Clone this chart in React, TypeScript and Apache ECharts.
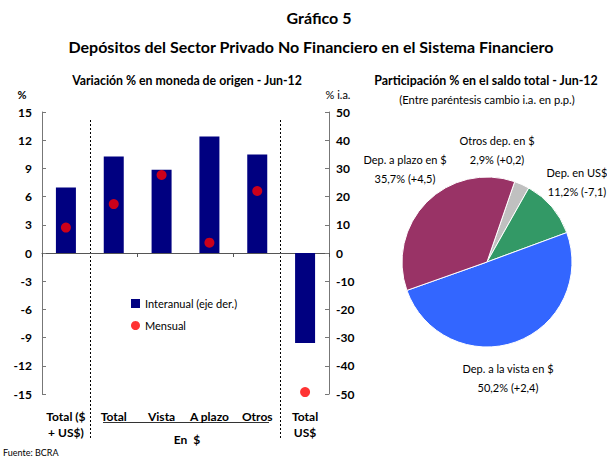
import React, { useEffect, useRef } from "react";
import * as echarts from "echarts";

const categories = ["Total ($\n+ US$)", "Total", "Vista", "A plazo", "Otros", "Total\nUS$"];
const interanual = [23.2, 34.2, 29.5, 41.3, 34.9, -31.9];
const mensual = [2.7, 5.2, 8.3, 1.1, 6.6, -14.8];
const leftTicks = { min: -15, max: 15, interval: 3 };
const rightTicks = { min: -50, max: 50, interval: 10 };

const pieNames = ["Otros dep. en $", "Dep. en US$", "Dep. a la vista en $", "Dep. a plazo en $"];
const pieShares = [2.9, 11.2, 50.2, 35.7];
const pieChanges = [0.2, -7.1, 2.4, 4.5];
const pieColors = ["#C0C0C0", "#339966", "#3366FF", "#993366"];
const pieLabelPos = [
  [497, 150],
  [577, 182],
  [508, 378],
  [405, 169],
];

const FONT = "Lato, 'Open Sans', sans-serif";
const fmt = (v: number) => v.toFixed(1).replace(".", ",");
const fmtSigned = (v: number) => (v >= 0 ? "+" : "-") + fmt(Math.abs(v));

export default function App() {
  const ref = useRef<HTMLDivElement>(null);
  useEffect(() => {
    const chart = echarts.init(ref.current!, null, { renderer: "svg" });
    const boldLabel = { fontFamily: FONT, fontWeight: "bold" as const, fontSize: 12, color: "#000" };
    chart.setOption({
      animation: false,
      backgroundColor: "#fff",
      textStyle: { fontFamily: FONT },
      grid: { left: 42, right: 278, top: 112, bottom: 62 },
      legend: {
        orient: "vertical",
        left: 126,
        top: 293,
        itemWidth: 9,
        itemHeight: 9,
        itemGap: 11,
        textStyle: { fontFamily: FONT, fontSize: 11, color: "#000" },
        data: [
          { name: "Interanual (eje der.)", icon: "rect" },
          { name: "Mensual", icon: "circle" },
        ],
      },
      xAxis: [
        {
          type: "category",
          data: categories,
          position: "bottom",
          axisLine: { onZero: true, lineStyle: { color: "#555", width: 1 } },
          axisTick: { show: true, inside: false, length: 4, lineStyle: { color: "#555" } },
          axisLabel: { show: false },
        },
        {
          type: "category",
          data: categories,
          position: "bottom",
          axisLine: { show: false, onZero: false },
          axisTick: { show: false },
          axisLabel: { ...boldLabel, margin: 14, lineHeight: 16, interval: 0 },
        },
      ],
      yAxis: [
        {
          type: "value",
          ...leftTicks,
          position: "left",
          axisLine: { show: true, lineStyle: { color: "#777" } },
          axisTick: { show: true, inside: true, length: 4, lineStyle: { color: "#777" } },
          axisLabel: { ...boldLabel, margin: 10 },
          splitLine: { show: false },
        },
        {
          type: "value",
          ...rightTicks,
          position: "right",
          axisLine: { show: true, lineStyle: { color: "#777" } },
          axisTick: { show: true, inside: true, length: 4, lineStyle: { color: "#777" } },
          axisLabel: { ...boldLabel, margin: 7 },
          splitLine: { show: false },
        },
      ],
      series: [
        {
          name: "Interanual (eje der.)",
          type: "bar",
          xAxisIndex: 0,
          yAxisIndex: 1,
          data: interanual,
          barWidth: 20,
          itemStyle: { color: "#000080" },
        },
        {
          name: "Mensual",
          type: "scatter",
          xAxisIndex: 0,
          yAxisIndex: 0,
          data: mensual,
          symbolSize: 10,
          itemStyle: { color: "#FF0000" },
          z: 5,
        },
        {
          name: "Participación",
          type: "pie",
          center: [487, 262],
          radius: 85,
          startAngle: 71,
          clockwise: true,
          avoidLabelOverlap: false,
          itemStyle: { borderColor: "#fff", borderWidth: 1 },
          data: pieNames.map((n, i) => ({
            name: n,
            value: pieShares[i],
            itemStyle: { color: pieColors[i] },
          })),
          label: {
            show: true,
            position: "outside",
            alignTo: "none",
            overflow: "none",
            fontFamily: FONT,
            fontSize: 11,
            color: "#000",
            lineHeight: 19,
            formatter: (p: any) =>
              `${p.name}\n${fmt(pieShares[p.dataIndex])}% (${fmtSigned(pieChanges[p.dataIndex])})`,
          },
          labelLine: { show: false },
          labelLayout: (p: any) => ({
            x: pieLabelPos[p.dataIndex][0],
            y: pieLabelPos[p.dataIndex][1],
            align: "center",
            verticalAlign: "middle",
            hideOverlap: false,
            moveOverlap: null,
          }),
        },
      ],
      graphic: [
        { type: "text", x: 319, y: 17, style: { text: "Gráfico 5", font: `bold 16px ${FONT}`, fill: "#000", textAlign: "center", textVerticalAlign: "middle" } },
        { type: "text", x: 311, y: 46, style: { text: "Depósitos del Sector Privado No Financiero en el Sistema Financiero", font: `bold 16px ${FONT}`, fill: "#000", textAlign: "center", textVerticalAlign: "middle" } },
        { type: "text", x: 187, y: 80, style: { text: "Variación % en moneda de origen - Jun-12", font: `bold 12.3px ${FONT}`, fill: "#000", textAlign: "center", textVerticalAlign: "middle" } },
        { type: "text", x: 22, y: 94, style: { text: "%", font: `bold 11px ${FONT}`, fill: "#000", textAlign: "center", textVerticalAlign: "middle" } },
        { type: "text", x: 338, y: 94, style: { text: "% i.a.", font: `11px ${FONT}`, fill: "#000", textAlign: "center", textVerticalAlign: "middle" } },
        { type: "text", x: 486, y: 80, style: { text: "Participación % en el saldo total - Jun-12", font: `bold 12.4px ${FONT}`, fill: "#000", textAlign: "center", textVerticalAlign: "middle" } },
        { type: "text", x: 487, y: 99, style: { text: "(Entre paréntesis cambio i.a. en p.p.)", font: `11.2px ${FONT}`, fill: "#000", textAlign: "center", textVerticalAlign: "middle" } },
        { type: "line", shape: { x1: 90.5, y1: 120, x2: 90.5, y2: 440 }, style: { stroke: "#000", lineWidth: 1, lineDash: [2, 2] } },
        { type: "line", shape: { x1: 280.5, y1: 120, x2: 280.5, y2: 440 }, style: { stroke: "#000", lineWidth: 1, lineDash: [2, 2] } },
        { type: "line", shape: { x1: 103, y1: 422.5, x2: 269, y2: 422.5 }, style: { stroke: "#333", lineWidth: 1 } },
        { type: "text", x: 187, y: 439, style: { text: "En  $", font: `bold 12px ${FONT}`, fill: "#000", textAlign: "center", textVerticalAlign: "middle" } },
        { type: "text", x: 3, y: 452, style: { text: "Fuente: BCRA", font: `9px ${FONT}`, fill: "#000", textAlign: "left", textVerticalAlign: "middle" } },
      ],
    });
    return () => chart.dispose();
  }, []);
  return <div ref={ref} style={{ width: 607, height: 456, position: "absolute", left: 0, top: 0 }} />;
}
